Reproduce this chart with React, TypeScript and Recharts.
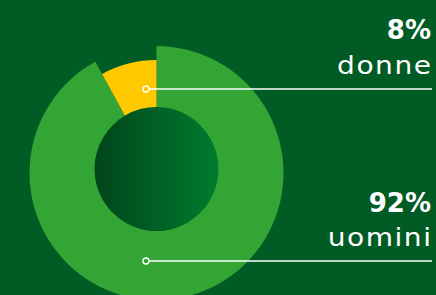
import React from "react";
import { PieChart, Pie, Cell } from "recharts";

const categories = ["uomini", "donne"];
const values = [92, 8];
const percentLabels = ["92%", "8%"];

const W = 436;
const H = 295;
const BG = "#015b25";
const GREEN = "#33a535";
const YELLOW = "#ffc800";

const data = categories.map((name, i) => ({ name, value: values[i], pct: percentLabels[i] }));

// layout for annotation blocks (by category)
const layout: Record<string, { lineY: number; pctY: number; nameY: number; dotFill: string }> = {
  donne: { lineY: 89, pctY: 39, nameY: 74, dotFill: YELLOW },
  uomini: { lineY: 261, pctY: 212, nameY: 246, dotFill: GREEN },
};

const FONT = "'DejaVu Sans', 'Open Sans', sans-serif";

const Annotations = () => (
  <svg width={W} height={H} style={{ position: "absolute", left: 0, top: 0, pointerEvents: "none" }}>
    {data.map((d) => {
      const l = layout[d.name];
      return (
        <g key={d.name}>
          <line x1={146} y1={l.lineY} x2={432} y2={l.lineY} stroke="#ffffff" strokeWidth={1.3} />
          <circle cx={146} cy={l.lineY} r={3} fill={l.dotFill} stroke="#ffffff" strokeWidth={1.4} />
          <text x={431} y={l.pctY} textAnchor="end" fill="#ffffff" fontFamily={FONT} fontWeight={700} fontSize={26}>
            {d.pct}
          </text>
          <g transform={`translate(432.5, ${l.nameY}) scale(1.1, 1)`}>
            <text x={0} y={0} textAnchor="end" fill="#ffffff" fontFamily={FONT} fontWeight={400} fontSize={25.5} letterSpacing={1.4}>
              {d.name}
            </text>
          </g>
        </g>
      );
    })}
  </svg>
);

export default function App() {
  return (
    <div style={{ position: "absolute", left: 0, top: 0, width: W, height: H, background: BG, overflow: "hidden" }}>
      <PieChart width={W} height={H} margin={{ top: 0, right: 0, bottom: 0, left: 0 }}>
        <defs>
          <linearGradient id="innerGrad" x1="0" y1="0" x2="1" y2="0">
            <stop offset="0%" stopColor="#00441a" />
            <stop offset="100%" stopColor="#007c30" />
          </linearGradient>
        </defs>
        <Pie
          data={data}
          dataKey="value"
          cx={156.5}
          cy={173}
          innerRadius={58}
          outerRadius={127}
          startAngle={90}
          endAngle={-270}
          stroke="none"
          isAnimationActive={false}
        >
          {data.map((d) => (
            <Cell key={d.name} fill={d.name === "uomini" ? GREEN : "transparent"} />
          ))}
        </Pie>
        <Pie
          data={data}
          dataKey="value"
          cx={156.5}
          cy={173}
          innerRadius={58}
          outerRadius={113}
          startAngle={90}
          endAngle={-270}
          stroke="none"
          isAnimationActive={false}
        >
          {data.map((d) => (
            <Cell key={d.name} fill={d.name === "donne" ? YELLOW : "transparent"} />
          ))}
        </Pie>
        <Pie
          data={[{ name: "centro", value: 1 }]}
          dataKey="value"
          cx={156.5}
          cy={169}
          innerRadius={0}
          outerRadius={62}
          stroke="none"
          fill="url(#innerGrad)"
          isAnimationActive={false}
        />
      </PieChart>
      <Annotations />
    </div>
  );
}
